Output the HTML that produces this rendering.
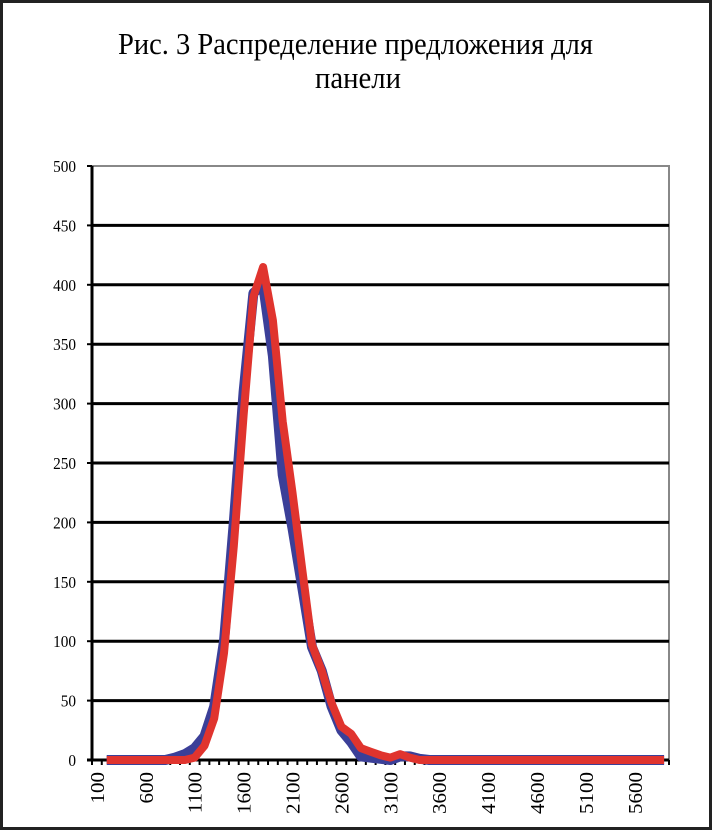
<!DOCTYPE html>
<html><head><meta charset="utf-8"><style>
body{margin:0;background:#fff}
svg text{font-family:"Liberation Serif","DejaVu Serif",serif;fill:#000}
</style></head><body>
<svg width="712" height="830" xmlns="http://www.w3.org/2000/svg">
<rect x="1.5" y="1.5" width="709" height="827" fill="#fff" stroke="#222" stroke-width="3"/>
<text x="118" y="54" font-size="31" textLength="475" lengthAdjust="spacingAndGlyphs">Рис. 3 Распределение предложения для</text>
<text x="315" y="88" font-size="31" textLength="86" lengthAdjust="spacingAndGlyphs">панели</text>
<g id="plot"></g>
</svg>
<script>
const g=document.getElementById('plot');const NS='http://www.w3.org/2000/svg';
function el(t,a,txt){const e=document.createElementNS(NS,t);for(const k in a)e.setAttribute(k,a[k]);if(txt!==undefined)e.textContent=txt;g.appendChild(e);return e;}
const L=92,R=669,T=166,B=760,cw=(R-L)/59;
const Y=v=>B-v*(B-T)/500, X=c=>L+cw*((c-100)/100+0.5);
el('path',{d:`M${L} ${T}H${R}V${B}`,fill:'none',stroke:'#888',"stroke-width":2});
for(let v=0;v<=500;v+=50){const y=Y(v);
 if(v>0&&v<500)el('line',{x1:L,x2:R,y1:y,y2:y,stroke:'#000',"stroke-width":3});
 el('line',{x1:L-5,x2:L,y1:y,y2:y,stroke:'#000',"stroke-width":2});
 el('text',{x:76,y:y+6,"font-size":17,"text-anchor":"end",transform:`translate(76,0) scale(0.9,1) translate(-76,0)`},v);}
el('line',{x1:L,x2:L,y1:T,y2:B+1,stroke:'#000',"stroke-width":3});
el('line',{x1:L-5,x2:R,y1:B,y2:B,stroke:'#000',"stroke-width":3});
for(let i=0;i<=59;i++){const x=L+i*cw;el('line',{x1:x,x2:x,y1:B,y2:B+5,stroke:'#000',"stroke-width":2});}
for(let c=100;c<=5600;c+=500){const x=X(c);
 el('text',{x:0,y:0,"font-size":20,"text-anchor":"end",transform:`translate(${x+7},${B+12}) rotate(-90) scale(1.05,1)`},c);}
const blue={900:2,1000:5,1100:10,1200:20,1300:45,1400:100,1500:200,1600:310,1700:393,1800:400,1900:340,2000:240,2100:195,2200:145,2300:95,2400:75,2500:45,2600:25,2700:15,2800:3,2900:2,3000:1,3100:0,3200:3,3300:3,3400:1};
const red={1000:0,1100:2,1200:12,1300:35,1400:90,1500:180,1600:290,1700:390,1800:415,1900:370,2000:285,2100:225,2200:160,2300:97,2400:75,2500:48,2600:28,2700:22,2800:10,2900:7,3000:4,3100:2,3200:5,3300:2,3400:0};
function pts(d){let p=[];for(let c=200;c<=5900;c+=100){p.push(X(c).toFixed(1)+','+Y(d[c]||0).toFixed(1));}return p.join(' ');}
el('polyline',{points:pts(blue),fill:'none',stroke:'#3b3f98',"stroke-width":10,"stroke-linejoin":"round"});
el('polyline',{points:pts(red),fill:'none',stroke:'#e0342e',"stroke-width":8,"stroke-linejoin":"round"});
</script>
</body></html>
